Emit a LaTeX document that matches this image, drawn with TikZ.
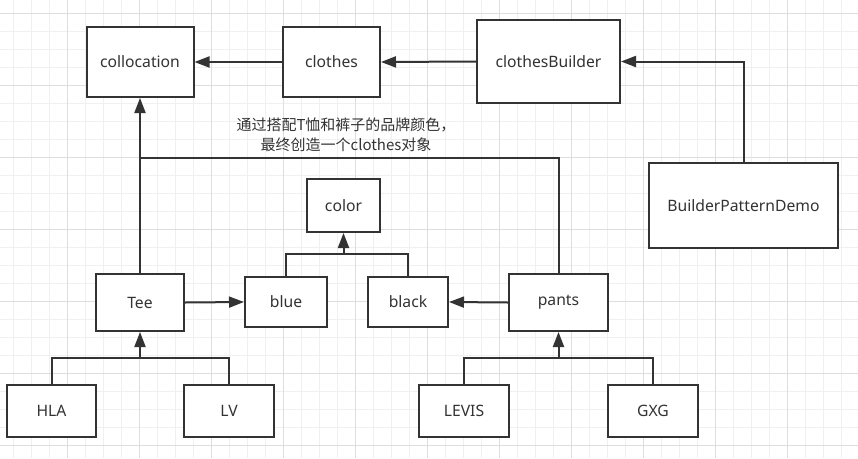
\documentclass[tikz,border=0pt]{standalone}
\usepackage{fontspec}
\setmainfont{Noto Sans}
\newfontfamily\cjk{Noto Sans CJK SC}
\usetikzlibrary{arrows.meta,calc}
\definecolor{ink}{HTML}{333333}
\definecolor{gridminor}{HTML}{F0F0F0}
\definecolor{gridmajor}{HTML}{DEDEDE}

\begin{document}
\begin{tikzpicture}[x=1pt,y=-1pt]
    \tikzstyle{box}=[draw=ink,line width=2pt,fill=white,inner sep=0pt,
        text=ink,font=\fontsize{15.7}{20}\selectfont]
    \tikzstyle{wire}=[draw=ink,line width=2pt]
    \tikzstyle{arr}=[wire,-{Triangle[length=15pt,width=11pt]}]
    % Background and grid
    \fill[white] (0,0) rectangle (858,458);
    \useasboundingbox (0,0) rectangle (858,458);
    \foreach \i in {0,...,46} \draw[gridminor,line width=1pt] ({13.5+18*\i},0) -- ++(0,458);
    \foreach \i in {0,...,24} \draw[gridminor,line width=1pt] (0,{13.5+18*\i}) -- ++(858,0);
    \foreach \i in {0,...,10} \draw[gridmajor,line width=1pt] ({67.5+72*\i},0) -- ++(0,458);
    \foreach \i in {0,...,6} \draw[gridmajor,line width=1pt] (0,{13.5+72*\i}) -- ++(858,0);
    % Boxes
    \node[box,minimum width=107pt,minimum height=70pt] (collocation) at (140,62) {collocation};
    \node[box,minimum width=97pt,minimum height=70pt] (clothes) at (331.5,62) {clothes};
    \node[box,minimum width=143pt,minimum height=83pt] (clothesBuilder) at (548.5,61.5) {clothesBuilder};
    \node[box,minimum width=189pt,minimum height=85pt] (demo) at (743.5,205.5) {BuilderPatternDemo};
    \node[box,minimum width=73pt,minimum height=53pt] (color) at (343.5,205.5) {color};
    \node[box,minimum width=88pt,minimum height=57pt] (tee) at (140,302.5) {Tee};
    \node[box,minimum width=82pt,minimum height=50pt] (blue) at (286,302) {blue};
    \node[box,minimum width=80pt,minimum height=50pt] (black) at (408,302) {black};
    \node[box,minimum width=99pt,minimum height=57pt] (pants) at (558.5,302.5) {pants};
    \node[box,minimum width=89pt,minimum height=52pt] (hla) at (51.5,411) {HLA};
    \node[box,minimum width=90pt,minimum height=52pt] (lv) at (229,411) {LV};
    \node[box,minimum width=90pt,minimum height=52pt] (levis) at (464,411) {LEVIS};
    \node[box,minimum width=90pt,minimum height=52pt] (gxg) at (653,411) {GXG};
    % Note
    \node[text=ink,align=center,font=\fontsize{15}{20}\selectfont\cjk] (note) at (346,135)
        {通过搭配T恤和裤子的品牌颜色，\\最终创造一个clothes对象};
    % Junctions
    \coordinate (topbus) at (140,158);
    \coordinate (colorjoin) at (343.5,254);
    \coordinate (teejoin) at (140,358);
    \coordinate (pantsjoin) at (558.5,358);
    % Connectors
    \draw[arr] (clothes.west) -- (collocation.east);
    \draw[arr] (clothesBuilder.west) -- (clothes.east);
    \draw[arr] (demo.north) |- (clothesBuilder.east);
    \draw[arr] (tee.north) -- (collocation.south);
    \draw[wire] (topbus) -| (pants.north);
    \draw[arr] (tee.east) -- (blue.west);
    \draw[arr] (pants.west) -- (black.east);
    \draw[wire] (blue.north) |- (colorjoin) -| (black.north);
    \draw[arr] (colorjoin) -- (color.south);
    \draw[wire] (hla.north) |- (teejoin) -| (lv.north);
    \draw[arr] (teejoin) -- (tee.south);
    \draw[wire] (levis.north) |- (pantsjoin) -| (gxg.north);
    \draw[arr] (pantsjoin) -- (pants.south);
\end{tikzpicture}
\end{document}
